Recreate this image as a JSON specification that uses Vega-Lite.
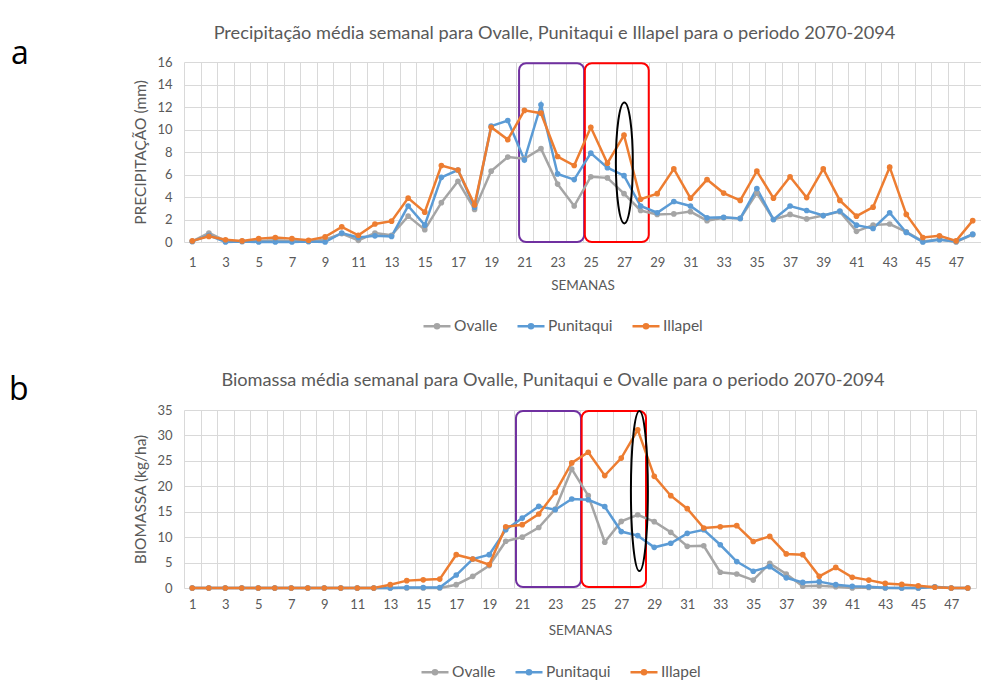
{
  "$schema": "https://vega.github.io/schema/vega-lite/v6.json",
  "padding": {"left": 9, "top": 24, "right": 0, "bottom": 0},
  "spacing": 35,
  "datasets": {
    "precip": [
      {"w":1,"Ovalle":0.05,"Punitaqui":0.05,"Illapel":0.1},
      {"w":2,"Ovalle":0.8,"Punitaqui":0.6,"Illapel":0.5},
      {"w":3,"Ovalle":0.1,"Punitaqui":0,"Illapel":0.2},
      {"w":4,"Ovalle":0.05,"Punitaqui":0.05,"Illapel":0.1},
      {"w":5,"Ovalle":0.1,"Punitaqui":0,"Illapel":0.3},
      {"w":6,"Ovalle":0.15,"Punitaqui":0,"Illapel":0.4},
      {"w":7,"Ovalle":0.1,"Punitaqui":0,"Illapel":0.3},
      {"w":8,"Ovalle":0.05,"Punitaqui":0.05,"Illapel":0.15},
      {"w":9,"Ovalle":0.2,"Punitaqui":0,"Illapel":0.45},
      {"w":10,"Ovalle":0.75,"Punitaqui":0.8,"Illapel":1.35},
      {"w":11,"Ovalle":0.15,"Punitaqui":0.4,"Illapel":0.6},
      {"w":12,"Ovalle":0.8,"Punitaqui":0.55,"Illapel":1.6},
      {"w":13,"Ovalle":0.6,"Punitaqui":0.5,"Illapel":1.85},
      {"w":14,"Ovalle":2.3,"Punitaqui":3.2,"Illapel":3.9},
      {"w":15,"Ovalle":1.1,"Punitaqui":1.5,"Illapel":2.65},
      {"w":16,"Ovalle":3.5,"Punitaqui":5.75,"Illapel":6.8},
      {"w":17,"Ovalle":5.4,"Punitaqui":6.4,"Illapel":6.4},
      {"w":18,"Ovalle":2.9,"Punitaqui":3.1,"Illapel":3.3},
      {"w":19,"Ovalle":6.3,"Punitaqui":10.3,"Illapel":10.2},
      {"w":20,"Ovalle":7.55,"Punitaqui":10.8,"Illapel":9.1},
      {"w":21,"Ovalle":7.4,"Punitaqui":7.3,"Illapel":11.7},
      {"w":22,"Ovalle":8.3,"Punitaqui":12.2,"Illapel":11.45},
      {"w":23,"Ovalle":5.15,"Punitaqui":6.05,"Illapel":7.6},
      {"w":24,"Ovalle":3.2,"Punitaqui":5.55,"Illapel":6.8},
      {"w":25,"Ovalle":5.8,"Punitaqui":7.9,"Illapel":10.2},
      {"w":26,"Ovalle":5.7,"Punitaqui":6.6,"Illapel":7.0},
      {"w":27,"Ovalle":4.3,"Punitaqui":5.9,"Illapel":9.5},
      {"w":28,"Ovalle":2.8,"Punitaqui":3.2,"Illapel":3.8},
      {"w":29,"Ovalle":2.45,"Punitaqui":2.6,"Illapel":4.3},
      {"w":30,"Ovalle":2.5,"Punitaqui":3.6,"Illapel":6.5},
      {"w":31,"Ovalle":2.7,"Punitaqui":3.2,"Illapel":3.9},
      {"w":32,"Ovalle":1.9,"Punitaqui":2.15,"Illapel":5.55},
      {"w":33,"Ovalle":2.15,"Punitaqui":2.2,"Illapel":4.35},
      {"w":34,"Ovalle":2.1,"Punitaqui":2.1,"Illapel":3.7},
      {"w":35,"Ovalle":4.35,"Punitaqui":4.75,"Illapel":6.3},
      {"w":36,"Ovalle":2.0,"Punitaqui":2.0,"Illapel":3.9},
      {"w":37,"Ovalle":2.45,"Punitaqui":3.2,"Illapel":5.8},
      {"w":38,"Ovalle":2.05,"Punitaqui":2.8,"Illapel":3.95},
      {"w":39,"Ovalle":2.35,"Punitaqui":2.35,"Illapel":6.5},
      {"w":40,"Ovalle":2.7,"Punitaqui":2.75,"Illapel":3.7},
      {"w":41,"Ovalle":0.95,"Punitaqui":1.5,"Illapel":2.3},
      {"w":42,"Ovalle":1.5,"Punitaqui":1.2,"Illapel":3.1},
      {"w":43,"Ovalle":1.6,"Punitaqui":2.6,"Illapel":6.65},
      {"w":44,"Ovalle":0.9,"Punitaqui":0.85,"Illapel":2.45},
      {"w":45,"Ovalle":0.05,"Punitaqui":0,"Illapel":0.4},
      {"w":46,"Ovalle":0.25,"Punitaqui":0.2,"Illapel":0.55},
      {"w":47,"Ovalle":0,"Punitaqui":0.05,"Illapel":0.1},
      {"w":48,"Ovalle":0.65,"Punitaqui":0.7,"Illapel":1.9}
    ],
    "biomassa": [
      {"w":1,"Ovalle":0,"Punitaqui":0,"Illapel":0},
      {"w":2,"Ovalle":0,"Punitaqui":0,"Illapel":0},
      {"w":3,"Ovalle":0,"Punitaqui":0,"Illapel":0},
      {"w":4,"Ovalle":0,"Punitaqui":0,"Illapel":0},
      {"w":5,"Ovalle":0,"Punitaqui":0,"Illapel":0},
      {"w":6,"Ovalle":0,"Punitaqui":0,"Illapel":0},
      {"w":7,"Ovalle":0,"Punitaqui":0,"Illapel":0},
      {"w":8,"Ovalle":0,"Punitaqui":0,"Illapel":0},
      {"w":9,"Ovalle":0,"Punitaqui":0,"Illapel":0},
      {"w":10,"Ovalle":0,"Punitaqui":0,"Illapel":0},
      {"w":11,"Ovalle":0,"Punitaqui":0,"Illapel":0},
      {"w":12,"Ovalle":0,"Punitaqui":0,"Illapel":0},
      {"w":13,"Ovalle":0,"Punitaqui":0,"Illapel":0.65},
      {"w":14,"Ovalle":0,"Punitaqui":0.1,"Illapel":1.45},
      {"w":15,"Ovalle":0,"Punitaqui":0.1,"Illapel":1.6},
      {"w":16,"Ovalle":0,"Punitaqui":0.1,"Illapel":1.75},
      {"w":17,"Ovalle":0.65,"Punitaqui":2.55,"Illapel":6.55},
      {"w":18,"Ovalle":2.3,"Punitaqui":5.7,"Illapel":5.7},
      {"w":19,"Ovalle":4.4,"Punitaqui":6.55,"Illapel":4.6},
      {"w":20,"Ovalle":9.2,"Punitaqui":11.45,"Illapel":12.05},
      {"w":21,"Ovalle":10.0,"Punitaqui":13.75,"Illapel":12.45},
      {"w":22,"Ovalle":11.9,"Punitaqui":16.05,"Illapel":14.55},
      {"w":23,"Ovalle":15.5,"Punitaqui":15.4,"Illapel":18.8},
      {"w":24,"Ovalle":23.4,"Punitaqui":17.5,"Illapel":24.6},
      {"w":25,"Ovalle":18.15,"Punitaqui":17.35,"Illapel":26.7},
      {"w":26,"Ovalle":9.0,"Punitaqui":16.0,"Illapel":22.1},
      {"w":27,"Ovalle":13.1,"Punitaqui":11.1,"Illapel":25.55},
      {"w":28,"Ovalle":14.4,"Punitaqui":10.3,"Illapel":31.1},
      {"w":29,"Ovalle":13.05,"Punitaqui":8.0,"Illapel":21.95},
      {"w":30,"Ovalle":10.95,"Punitaqui":8.8,"Illapel":18.15},
      {"w":31,"Ovalle":8.2,"Punitaqui":10.75,"Illapel":15.6},
      {"w":32,"Ovalle":8.3,"Punitaqui":11.45,"Illapel":11.8},
      {"w":33,"Ovalle":3.1,"Punitaqui":8.5,"Illapel":12.05},
      {"w":34,"Ovalle":2.75,"Punitaqui":5.2,"Illapel":12.25},
      {"w":35,"Ovalle":1.55,"Punitaqui":3.3,"Illapel":9.15},
      {"w":36,"Ovalle":4.85,"Punitaqui":4.2,"Illapel":10.15},
      {"w":37,"Ovalle":2.75,"Punitaqui":2.0,"Illapel":6.7},
      {"w":38,"Ovalle":0.35,"Punitaqui":1.1,"Illapel":6.55},
      {"w":39,"Ovalle":0.45,"Punitaqui":1.25,"Illapel":2.3},
      {"w":40,"Ovalle":0.25,"Punitaqui":0.65,"Illapel":4.05},
      {"w":41,"Ovalle":0,"Punitaqui":0.35,"Illapel":2.1},
      {"w":42,"Ovalle":0.1,"Punitaqui":0.25,"Illapel":1.55},
      {"w":43,"Ovalle":0,"Punitaqui":0.05,"Illapel":0.9},
      {"w":44,"Ovalle":0,"Punitaqui":0,"Illapel":0.7},
      {"w":45,"Ovalle":0,"Punitaqui":0,"Illapel":0.45},
      {"w":46,"Ovalle":0.2,"Punitaqui":0.25,"Illapel":0.15},
      {"w":47,"Ovalle":0,"Punitaqui":0,"Illapel":0},
      {"w":48,"Ovalle":0,"Punitaqui":0,"Illapel":0}
    ]
  },
  "vconcat": [
    {
      "width": 797,
      "height": 180,
      "title": {"text": "Precipitação média semanal para Ovalle, Punitaqui e Illapel para o periodo 2070-2094", "dx": -28, "offset": -6},
      "layer": [
        {
          "data": {"values": [{"x1": 20.68, "x2": 24.6, "y1": 0, "y2": 15.9, "box": "roxo"}, {"x1": 24.64, "x2": 28.49, "y1": 0, "y2": 15.9, "box": "vermelho"}]},
          "mark": {"type": "rect", "fillOpacity": 0, "strokeWidth": 2, "cornerRadius": 7},
          "encoding": {
            "x": {"field": "x1", "type": "quantitative", "scale": {"domain": [0.5, 48.5], "nice": false, "zero": false},
              "axis": {"orient": "bottom", "values": [0.5,1.5,2.5,3.5,4.5,5.5,6.5,7.5,8.5,9.5,10.5,11.5,12.5,13.5,14.5,15.5,16.5,17.5,18.5,19.5,20.5,21.5,22.5,23.5,24.5,25.5,26.5,27.5,28.5,29.5,30.5,31.5,32.5,33.5,34.5,35.5,36.5,37.5,38.5,39.5,40.5,41.5,42.5,43.5,44.5,45.5,46.5,47.5,48.5], "grid": true, "labels": false, "ticks": false, "domain": false, "title": null}},
            "x2": {"field": "x2"},
            "y": {"field": "y1", "type": "quantitative", "scale": {"domain": [0, 16], "nice": false}, "axis": {"values": [0,2,4,6,8,10,12,14,16], "title": "PRECIPITAÇÃO (mm)"}},
            "y2": {"field": "y2"},
            "stroke": {"field": "box", "type": "nominal", "scale": {"domain": ["roxo", "vermelho"], "range": ["#7030A0", "#FF0000"]}, "legend": null}
          }
        },
        {
          "data": {"name": "precip"},
          "transform": [{"fold": ["Ovalle", "Punitaqui", "Illapel"], "as": ["cidade", "valor"]}],
          "mark": {"type": "line", "strokeWidth": 2.5, "point": {"filled": true, "size": 32}},
          "encoding": {
            "x": {"field": "w", "type": "quantitative", "axis": {"orient": "bottom", "values": [1,3,5,7,9,11,13,15,17,19,21,23,25,27,29,31,33,35,37,39,41,43,45,47], "grid": false, "title": "SEMANAS"}},
            "y": {"field": "valor", "type": "quantitative", "axis": {"values": [0,2,4,6,8,10,12,14,16], "title": "PRECIPITAÇÃO (mm)"}},
            "color": {"field": "cidade", "type": "nominal", "scale": {"domain": ["Ovalle", "Punitaqui", "Illapel"], "range": ["#A5A5A5", "#5B9BD5", "#ED7D31"]},
              "legend": {"title": null, "orient": "none", "legendX": 238, "legendY": 249, "direction": "horizontal"}}
          }
        },
        {
          "data": {"values": [{"x": 27.02, "y": 7.03}]},
          "mark": {"type": "point", "shape": "M0,-1A0.14,1,0,1,1,0,1A0.14,1,0,1,1,0,-1Z", "size": 14641, "filled": false, "stroke": "#000000", "strokeWidth": 2, "opacity": 1},
          "encoding": {"x": {"field": "x", "type": "quantitative", "axis": null}, "y": {"field": "y", "type": "quantitative", "axis": {"values": [0,2,4,6,8,10,12,14,16], "title": "PRECIPITAÇÃO (mm)"}}}
        },
        {
          "data": {"values": [{"x": -9.92, "y": 15.85, "t": "a"}]},
          "mark": {"type": "text", "align": "left", "baseline": "alphabetic", "fontSize": 32, "font": "Open Sans", "color": "#000000"},
          "encoding": {"x": {"field": "x", "type": "quantitative", "axis": null}, "y": {"field": "y", "type": "quantitative", "axis": {"values": [0,2,4,6,8,10,12,14,16], "title": "PRECIPITAÇÃO (mm)"}}, "text": {"field": "t"}}
        }
      ],
      "resolve": {"axis": {"x": "independent"}}
    },
    {
      "width": 792,
      "height": 178,
      "title": {"text": "Biomassa média semanal para Ovalle, Punitaqui e Ovalle para o periodo 2070-2094", "dx": -27, "offset": -16},
      "layer": [
        {
          "data": {"values": [{"x1": 20.62, "x2": 24.56, "y1": 0.2, "y2": 34.8, "box": "roxo"}, {"x1": 24.6, "x2": 28.5, "y1": 0.2, "y2": 34.8, "box": "vermelho"}]},
          "mark": {"type": "rect", "fillOpacity": 0, "strokeWidth": 2, "cornerRadius": 7},
          "encoding": {
            "x": {"field": "x1", "type": "quantitative", "scale": {"domain": [0.5, 48.5], "nice": false, "zero": false},
              "axis": {"orient": "bottom", "values": [0.5,1.5,2.5,3.5,4.5,5.5,6.5,7.5,8.5,9.5,10.5,11.5,12.5,13.5,14.5,15.5,16.5,17.5,18.5,19.5,20.5,21.5,22.5,23.5,24.5,25.5,26.5,27.5,28.5,29.5,30.5,31.5,32.5,33.5,34.5,35.5,36.5,37.5,38.5,39.5,40.5,41.5,42.5,43.5,44.5,45.5,46.5,47.5,48.5], "grid": true, "labels": false, "ticks": false, "domain": false, "title": null}},
            "x2": {"field": "x2"},
            "y": {"field": "y1", "type": "quantitative", "scale": {"domain": [0, 35], "nice": false}, "axis": {"values": [0,5,10,15,20,25,30,35], "title": "BIOMASSA (kg/ha)"}},
            "y2": {"field": "y2"},
            "stroke": {"field": "box", "type": "nominal", "scale": {"domain": ["roxo", "vermelho"], "range": ["#7030A0", "#FF0000"]}, "legend": null}
          }
        },
        {
          "data": {"name": "biomassa"},
          "transform": [{"fold": ["Ovalle", "Punitaqui", "Illapel"], "as": ["cidade", "valor"]}],
          "mark": {"type": "line", "strokeWidth": 2.5, "point": {"filled": true, "size": 32}},
          "encoding": {
            "x": {"field": "w", "type": "quantitative", "axis": {"orient": "bottom", "values": [1,3,5,7,9,11,13,15,17,19,21,23,25,27,29,31,33,35,37,39,41,43,45,47], "grid": false, "title": "SEMANAS", "labelPadding": 10, "titlePadding": 12}},
            "y": {"field": "valor", "type": "quantitative", "axis": {"values": [0,5,10,15,20,25,30,35], "title": "BIOMASSA (kg/ha)"}},
            "color": {"field": "cidade", "type": "nominal", "scale": {"domain": ["Ovalle", "Punitaqui", "Illapel"], "range": ["#A5A5A5", "#5B9BD5", "#ED7D31"]},
              "legend": {"title": null, "orient": "none", "legendX": 236, "legendY": 247, "direction": "horizontal"}}
          }
        },
        {
          "data": {"values": [{"x": 28.1, "y": 19.07}]},
          "mark": {"type": "point", "shape": "M0,-1A0.106,1,0,1,1,0,1A0.106,1,0,1,1,0,-1Z", "size": 25600, "filled": false, "stroke": "#000000", "strokeWidth": 2, "opacity": 1},
          "encoding": {"x": {"field": "x", "type": "quantitative", "axis": null}, "y": {"field": "y", "type": "quantitative", "axis": {"values": [0,5,10,15,20,25,30,35], "title": "BIOMASSA (kg/ha)"}}}
        },
        {
          "data": {"values": [{"x": -10.1, "y": 36.96, "t": "b"}]},
          "mark": {"type": "text", "align": "left", "baseline": "alphabetic", "fontSize": 32, "font": "Open Sans", "color": "#000000"},
          "encoding": {"x": {"field": "x", "type": "quantitative", "axis": null}, "y": {"field": "y", "type": "quantitative", "axis": {"values": [0,5,10,15,20,25,30,35], "title": "BIOMASSA (kg/ha)"}}, "text": {"field": "t"}}
        }
      ],
      "resolve": {"axis": {"x": "independent"}}
    }
  ],
  "resolve": {"scale": {"color": "independent", "stroke": "independent"}, "legend": {"color": "independent"}},
  "config": {
    "font": "Lato",
    "view": {"stroke": null},
    "title": {"fontSize": 18.2, "fontWeight": "normal", "color": "#595959", "anchor": "middle", "frame": "group"},
    "axis": {"gridColor": "#D9D9D9", "gridWidth": 1, "domain": false, "ticks": false, "tickSize": 0, "labelColor": "#595959", "labelFontSize": 13, "titleColor": "#595959", "titleFontWeight": "normal", "titleFontSize": 13.5},
    "axisY": {"labelPadding": 12, "titleFontSize": 15.5, "titlePadding": 8, "grid": true},
    "axisX": {"labelPadding": 14, "titlePadding": 9},
    "legend": {"labelFontSize": 15.5, "labelColor": "#595959", "symbolType": "M-1,0H1M-0.15,0A0.15,0.15,0,1,0,0.15,0A0.15,0.15,0,1,0,-0.15,0", "symbolSize": 729, "symbolStrokeWidth": 2.5, "labelOffset": 2, "columnPadding": 14, "padding": 0}
  }
}
